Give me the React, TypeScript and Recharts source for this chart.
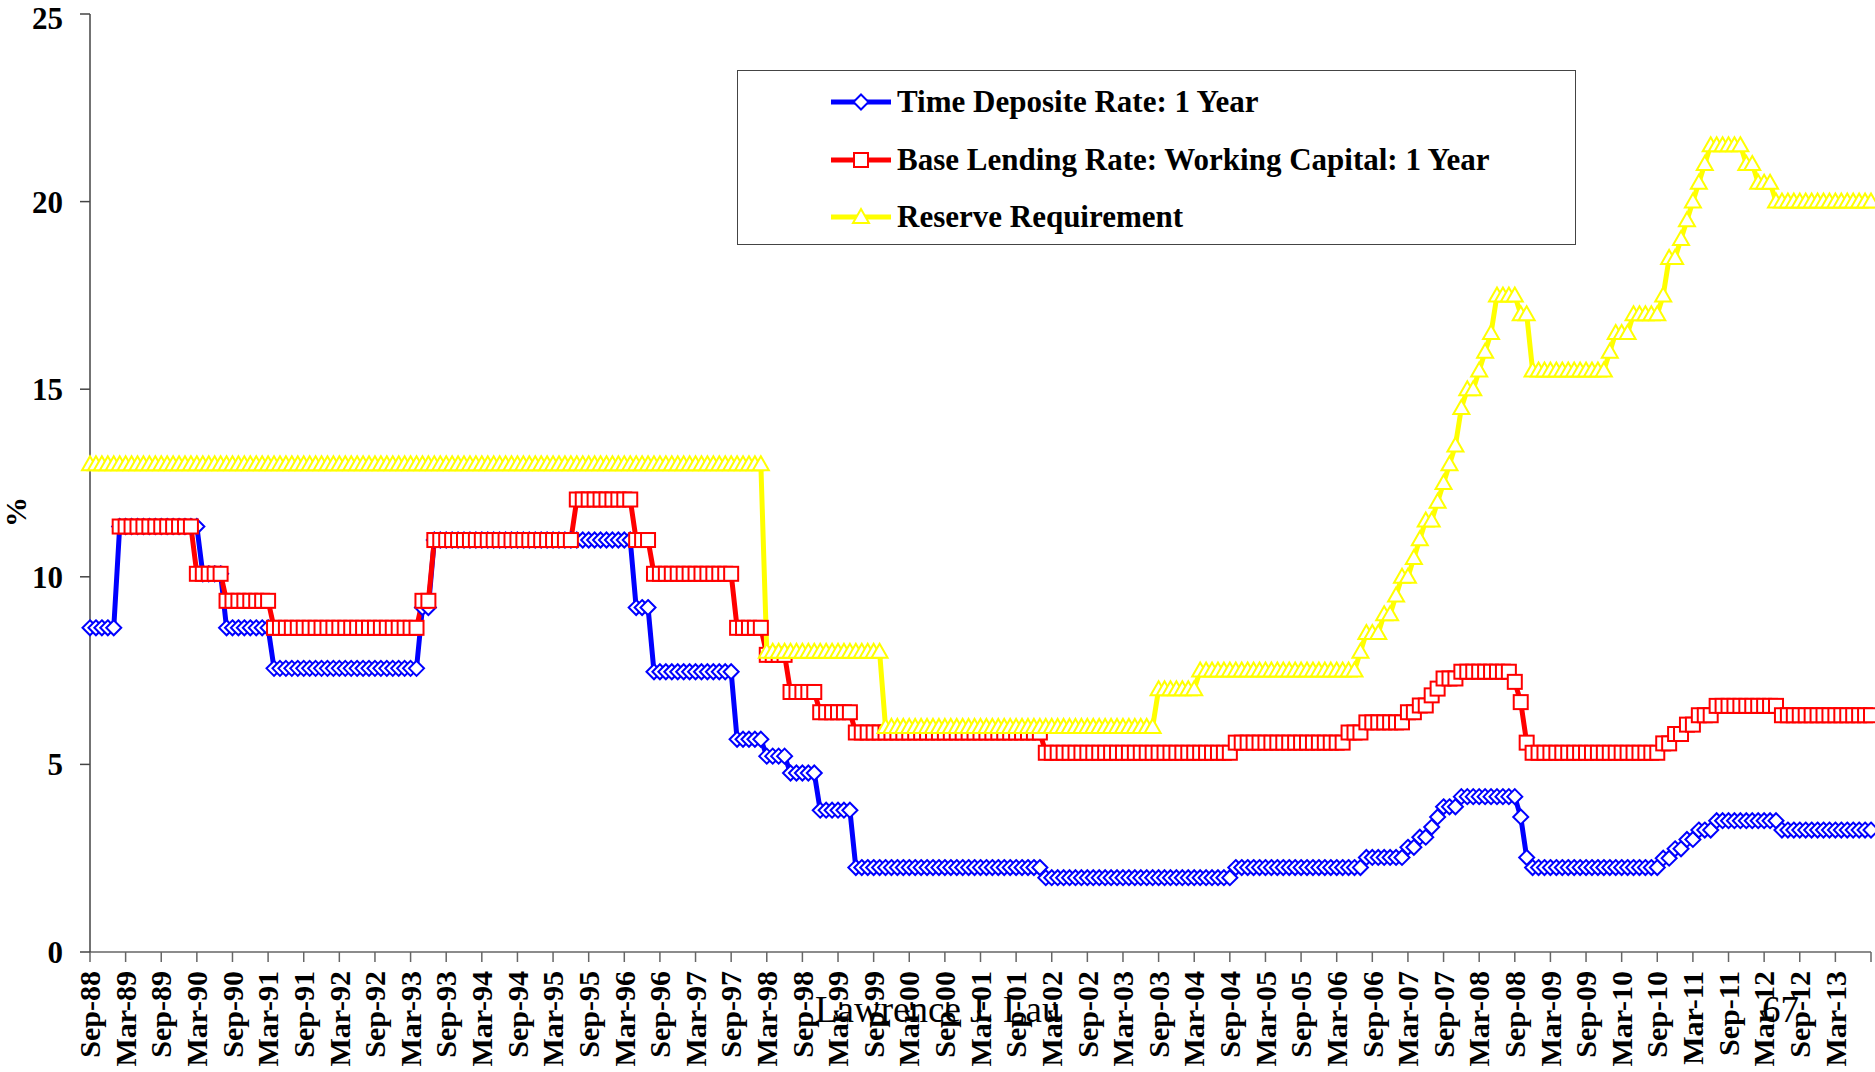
import React from "react";
import { LineChart, Line, XAxis, YAxis, Legend } from "recharts";

const SERIF = '"Liberation Serif", "Times New Roman", serif';

// monthly categories, Sep-88 .. Sep-13
const MONTH_NAMES = ["Jan", "Feb", "Mar", "Apr", "May", "Jun", "Jul", "Aug", "Sep", "Oct", "Nov", "Dec"];
const FIRST_YEAR = 1988;
const FIRST_MONTH = 8; // Sep
const MONTH_COUNT = 301;

// [value, number of months], starting Sep-88
const depositRuns: [number, number][] = [
  [8.64, 5], [11.34, 14], [10.08, 4], [8.64, 8], [7.56, 25], [9.18, 2], [10.98, 34],
  [9.18, 3], [7.47, 14], [5.67, 5], [5.22, 4], [4.77, 5], [3.78, 6], [2.25, 32],
  [1.98, 32], [2.25, 22], [2.52, 7], [2.79, 2], [3.06, 2], [3.33, 1], [3.6, 1],
  [3.87, 3], [4.14, 10], [3.6, 1], [2.52, 1], [2.25, 22], [2.5, 2], [2.75, 2],
  [3.0, 2], [3.25, 3], [3.5, 11], [3.25, 16],
];

const lendingRuns: [number | null, number][] = [
  [null, 5], [11.34, 13], [10.08, 5], [9.36, 8], [8.64, 25], [9.36, 2], [10.98, 24],
  [12.06, 10], [10.98, 3], [10.08, 14], [8.64, 5], [7.92, 4], [6.93, 5], [6.39, 6],
  [5.85, 32], [5.31, 32], [5.58, 19], [5.85, 3], [6.12, 7], [6.39, 2], [6.57, 2],
  [6.84, 1], [7.02, 1], [7.29, 3], [7.47, 9], [7.2, 1], [6.66, 1], [5.58, 1],
  [5.31, 22], [5.56, 2], [5.81, 2], [6.06, 2], [6.31, 3], [6.56, 11], [6.31, 16],
];

const reserveRuns: [number, number][] = [
  [13, 114], [8, 20], [6, 46], [7, 7], [7.5, 27], [8, 1], [8.5, 3], [9, 2], [9.5, 1],
  [10, 2], [10.5, 1], [11, 1], [11.5, 2], [12, 1], [12.5, 1], [13, 1], [13.5, 1],
  [14.5, 1], [15, 2], [15.5, 1], [16, 1], [16.5, 1], [17.5, 4], [17, 2], [15.5, 13],
  [16, 1], [16.5, 3], [17, 5], [17.5, 1], [18.5, 2], [19, 1], [19.5, 1], [20, 1],
  [20.5, 1], [21, 1], [21.5, 6], [21, 2], [20.5, 3], [20, 17],
];

const yTicks = [0, 5, 10, 15, 20, 25];

const seriesNames = {
  deposit: "Time Deposite Rate: 1 Year",
  lending: "Base Lending Rate: Working Capital: 1 Year",
  reserve: "Reserve Requirement",
};

function expand<T>(runs: [T, number][]): T[] {
  const out: T[] = [];
  runs.forEach(([v, n]) => {
    for (let k = 0; k < n; k++) out.push(v);
  });
  return out;
}

const months = Array.from({ length: MONTH_COUNT }, (_, k) => {
  const m = FIRST_MONTH + k;
  const yr = (FIRST_YEAR + Math.floor(m / 12)) % 100;
  return `${MONTH_NAMES[m % 12]}-${String(yr).padStart(2, "0")}`;
});

const deposit = expand(depositRuns);
const lending = expand(lendingRuns);
const reserve = expand(reserveRuns);

const chartData = months.map((month, k) => ({
  month,
  deposit: deposit[k],
  lending: lending[k],
  reserve: reserve[k],
}));

// markers
function Diamond({ cx, cy, color }) {
  const r = 7.5;
  return (
    <polygon
      points={`${cx},${cy - r} ${cx + r},${cy} ${cx},${cy + r} ${cx - r},${cy}`}
      fill="#fff"
      stroke={color}
      strokeWidth={2}
    />
  );
}

function Square({ cx, cy, color }) {
  return <rect x={cx - 7} y={cy - 7} width={14} height={14} fill="#fff" stroke={color} strokeWidth={2} />;
}

function Triangle({ cx, cy, color }) {
  return (
    <polygon
      points={`${cx},${cy - 8} ${cx + 8},${cy + 6} ${cx - 8},${cy + 6}`}
      fill="#fff"
      stroke={color}
      strokeWidth={2}
    />
  );
}

const shapes = { deposit: Diamond, lending: Square, reserve: Triangle };
const colors = { deposit: "#0000ff", lending: "#ff0000", reserve: "#ffff00" };

const makeDot = (key: string) => (props: any) => {
  const Shape = shapes[key];
  if (props.cx == null || props.cy == null || props.value == null) {
    return <g key={`${key}-${props.index}`} />;
  }
  return (
    <g key={`${key}-${props.index}`}>
      <Shape cx={props.cx} cy={props.cy} color={colors[key]} />
    </g>
  );
};

const MonthTick = (props: any) => {
  const { x, y, payload } = props;
  if (payload.value === months[months.length - 1]) return <g />;
  return (
    <text
      transform={`translate(${x},${y}) rotate(-90)`}
      textAnchor="end"
      dy="0.34em"
      fontFamily={SERIF}
      fontWeight="bold"
      fontSize={30}
      fill="#000"
    >
      {payload.value}
    </text>
  );
};

const LegendBox = () => (
  <div
    style={{
      width: 839,
      height: 175,
      border: "1px solid #444",
      boxSizing: "border-box",
      background: "#fff",
      position: "relative",
    }}
  >
    {(["deposit", "lending", "reserve"] as const).map((key, k) => {
      const Shape = shapes[key];
      return (
        <div
          key={key}
          style={{
            position: "absolute",
            left: 92,
            top: 31 + k * 57.5 - 20,
            height: 40,
            display: "flex",
            alignItems: "center",
            whiteSpace: "nowrap",
          }}
        >
          <svg width={62} height={40}>
            <line x1={1} y1={20} x2={61} y2={20} stroke={colors[key]} strokeWidth={5} />
            <Shape cx={31} cy={20} color={colors[key]} />
          </svg>
          <span
            style={{
              marginLeft: 5,
              fontFamily: SERIF,
              fontWeight: "bold",
              fontSize: 31,
              color: "#000",
            }}
          >
            {seriesNames[key]}
          </span>
        </div>
      );
    })}
  </div>
);

export default function App() {
  return (
    <div style={{ position: "absolute", left: 0, top: 0, width: 1875, height: 1072, background: "#fff", overflow: "hidden" }}>
      <LineChart width={1875} height={1072} data={chartData} margin={{ top: 14, right: 4, bottom: 0, left: 0 }}>
        <XAxis
          dataKey="month"
          interval={5}
          height={120}
          tickSize={10}
          tickMargin={9}
          axisLine={{ stroke: "#666", strokeWidth: 1.5 }}
          tickLine={{ stroke: "#666", strokeWidth: 1.5 }}
          tick={(p) => <MonthTick {...p} />}
        />
        <YAxis
          domain={[0, 25]}
          ticks={yTicks}
          width={90}
          tickSize={10}
          tickMargin={17}
          axisLine={{ stroke: "#444", strokeWidth: 1.5 }}
          tickLine={{ stroke: "#444", strokeWidth: 1.5 }}
          tick={{ fontFamily: SERIF, fontWeight: "bold", fontSize: 31, fill: "#000" }}
          label={() => (
            <text
              x={15}
              y={512}
              transform="rotate(-90 15 512)"
              textAnchor="middle"
              dominantBaseline="central"
              fontFamily={SERIF}
              fontWeight="bold"
              fontSize={30}
              fill="#000"
            >
              %
            </text>
          )}
        />
        <Legend
          layout="vertical"
          align="center"
          verticalAlign="middle"
          wrapperStyle={{ left: 737, top: 70, width: 839, height: 175 }}
          content={() => <LegendBox />}
        />
        <Line
          type="linear"
          dataKey="deposit"
          name={seriesNames.deposit}
          stroke={colors.deposit}
          strokeWidth={5}
          dot={makeDot("deposit")}
          activeDot={false}
          isAnimationActive={false}
        />
        <Line
          type="linear"
          dataKey="lending"
          name={seriesNames.lending}
          stroke={colors.lending}
          strokeWidth={5}
          dot={makeDot("lending")}
          activeDot={false}
          isAnimationActive={false}
        />
        <Line
          type="linear"
          dataKey="reserve"
          name={seriesNames.reserve}
          stroke={colors.reserve}
          strokeWidth={5}
          dot={makeDot("reserve")}
          activeDot={false}
          isAnimationActive={false}
        />
      </LineChart>
      <svg width={1875} height={1072} style={{ position: "absolute", left: 0, top: 0, pointerEvents: "none" }}>
        <text x={815} y={1022} fontFamily={SERIF} fontSize={37} fill="#000">
          Lawrence J. Lau
        </text>
        <text x={1762} y={1022} fontFamily={SERIF} fontSize={37} fill="#000">
          67
        </text>
      </svg>
    </div>
  );
}
